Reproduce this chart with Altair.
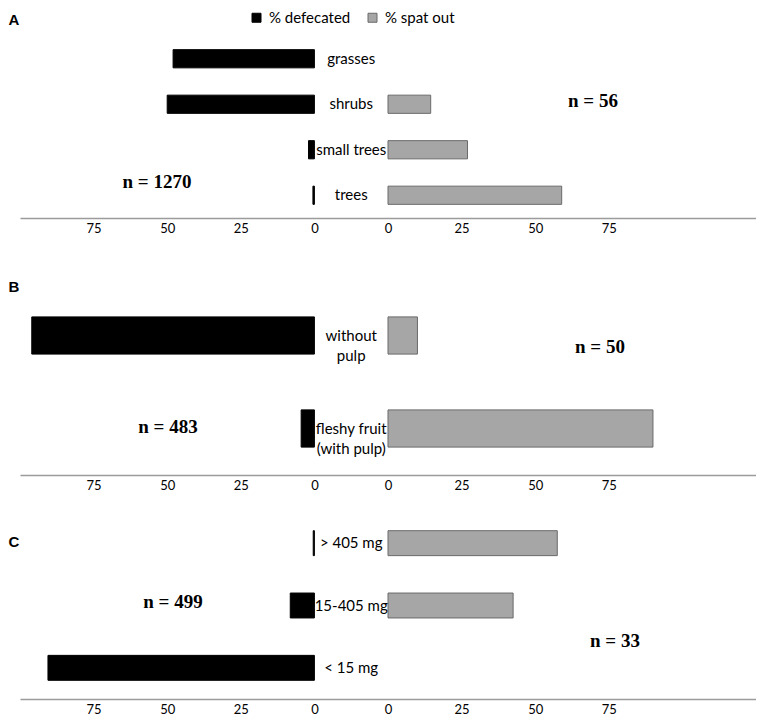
import altair as alt
import pandas as pd

# ---------------- data ----------------
SERIES = ["% defecated", "% spat out"]
TICKS = [0, 25, 50, 75]

A_categories = ["grasses", "shrubs", "small trees", "trees"]
A_defecated = [48, 50, 2, 0.5]
A_spat_out = [0, 14.5, 27, 59]
A_n = ["n = 1270", "n = 56"]

B_categories = ["without\npulp", "fleshy fruit\n(with pulp)"]
B_defecated = [96, 4.5]
B_spat_out = [10, 90]
B_n = ["n = 483", "n = 50"]

C_categories = ["> 405 mg", "15-405 mg", "< 15 mg"]
C_defecated = [0.4, 8.2, 90.5]
C_spat_out = [57.5, 42.5, 0]
C_n = ["n = 499", "n = 33"]

# ---------------- layout ----------------
GAP = 25          # gap (in % units) between the two zero points
HALF = GAP / 2
LEFT_MAX = 100
RIGHT_MAX = 125
W = 736

LABEL_FONT = "Lato"


def panel(cats, defec, spat, n_labels, n_pos, letter, letter_pos, height, show_legend):
    rows = []
    for c, d, s in zip(cats, defec, spat):
        rows.append({"cat": c, "series": SERIES[0], "value": d})
        rows.append({"cat": c, "series": SERIES[1], "value": s})
    df = pd.DataFrame(rows)

    xscale = alt.Scale(domain=[-(HALF + LEFT_MAX), HALF + RIGHT_MAX], nice=False, zero=False)
    yscale = alt.Scale(domain=cats, paddingInner=0.6, paddingOuter=0.3)
    tick_vals = [-(HALF + t) for t in TICKS] + [HALF + t for t in TICKS]
    xaxis = alt.Axis(
        values=tick_vals,
        labelExpr=f"format(abs(datum.value) - {HALF}, 'd')",
        title=None, grid=False, ticks=False, tickSize=0,
        labelPadding=4, labelFlush=False, labelOverlap=False,
        domainColor="#9b9b9b", domainWidth=1.5,
        labelFont=LABEL_FONT, labelFontSize=13, labelColor="black",
    )
    if show_legend:
        legend = alt.Legend(
            title=None, orient="none", legendX=229, legendY=-26,
            direction="horizontal", symbolType="square", symbolSize=81,
            symbolStrokeWidth=1, symbolStrokeColor="#555555",
            labelFont=LABEL_FONT, labelFontSize=15, labelColor="black",
            columnPadding=14, labelOffset=5, padding=0,
        )
    else:
        legend = None

    bars = alt.Chart(df).transform_filter("datum.value > 0").transform_calculate(
        x0=f"datum.series == '{SERIES[0]}' ? -{HALF} - datum.value : {HALF}",
        x1=f"datum.series == '{SERIES[0]}' ? -{HALF} : {HALF} + datum.value",
    ).mark_bar(strokeWidth=1).encode(
        x=alt.X("x0:Q", scale=xscale, axis=xaxis),
        x2="x1:Q",
        y=alt.Y("cat:N", scale=yscale, axis=None, sort=cats),
        color=alt.Color("series:N", scale=alt.Scale(domain=SERIES, range=["#000000", "#a6a6a6"]), legend=legend),
        stroke=alt.Stroke("series:N", scale=alt.Scale(domain=SERIES, range=["#000000", "#6a6a6a"]), legend=None),
    )

    cat_labels = alt.Chart(pd.DataFrame({"cat": cats})).transform_calculate(mid="0").mark_text(
        font=LABEL_FONT, fontSize=15, align="center", baseline="middle",
        lineBreak="\n", lineHeight=20, color="black",
    ).encode(
        x=alt.X("mid:Q", scale=xscale, axis=xaxis),
        y=alt.Y("cat:N", scale=yscale, axis=None, sort=cats),
        text="cat:N",
    )

    layers = [bars, cat_labels]
    for lab, (px, py) in zip(n_labels, n_pos):
        layers.append(
            alt.Chart(pd.DataFrame({"t": [lab]})).mark_text(
                font="Liberation Serif", fontWeight="bold", fontSize=19,
                align="center", baseline="middle", color="black",
            ).encode(text="t:N", x=alt.value(px), y=alt.value(py))
        )
    layers.append(
        alt.Chart(pd.DataFrame({"t": [letter]})).mark_text(
            font="Liberation Sans", fontWeight="bold", fontSize=15,
            align="center", baseline="middle", color="black",
        ).encode(text="t:N", x=alt.value(letter_pos[0]), y=alt.value(letter_pos[1]))
    )
    return alt.layer(*layers).properties(width=W, height=height)


A = panel(A_categories, A_defecated, A_spat_out, A_n, [(137, 146), (573, 65)], "A", (-6, -16), 182, True)
B = panel(B_categories, B_defecated, B_spat_out, B_n, [(148, 138), (580, 58)], "B", (-6, -2), 186, False)
C = panel(C_categories, C_defecated, C_spat_out, C_n, [(153, 90), (595, 129)], "C", (-6, 30), 187, False)

chart = alt.vconcat(
    alt.vconcat(A),
    alt.vconcat(B, C, spacing=20),
    spacing=45,
).resolve_scale(color="independent", stroke="independent").properties(
    padding={"left": 0, "top": 2, "right": 0, "bottom": 0},
    background="white",
).configure_view(stroke=None)

chart.save("out.html", embed_options={"renderer": "svg", "actions": False})
